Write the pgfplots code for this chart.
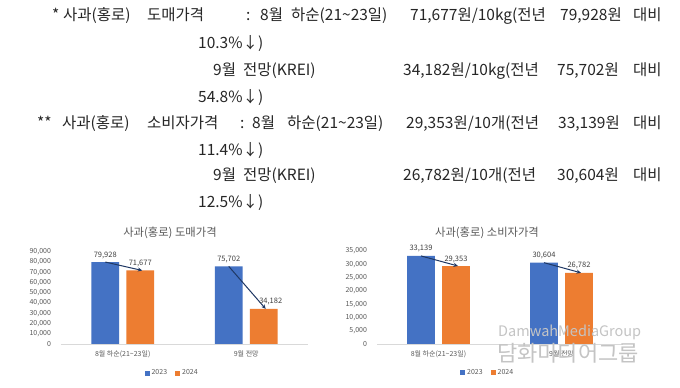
\documentclass[border=0pt]{standalone}
\usepackage{fontspec}
\setmainfont{Noto Sans CJK KR}
\usepackage{pgfplots}
\pgfplotsset{compat=1.18}
\usetikzlibrary{arrows.meta}
\definecolor{xblue}{HTML}{4472C4}
\definecolor{xorange}{HTML}{ED7D31}
\definecolor{txt}{HTML}{595959}
\definecolor{lbl}{HTML}{404040}
\definecolor{arr}{HTML}{1F3864}
\definecolor{wm}{HTML}{C4C4C4}
\pgfplotsset{
  mybar/.style={
    scale only axis, anchor=south west,
    ybar=7.4pt, bar width=27.6pt,
    xmin=-0.5, xmax=1.5, ymin=0,
    xtick={0,1},
    axis x line*=bottom, axis y line*=left,
    x axis line style={draw=black!15, line width=0.6pt},
    y axis line style={draw=none},
    major tick length=0pt,
    scaled y ticks=false,
    /pgf/number format/.cd, 1000 sep={,}, assume math mode=true, /pgfplots/.cd,
    yticklabel style={font=\fontsize{7}{8}\selectfont, text=txt, xshift=-6.5pt},
    xticklabel style={font=\fontsize{7}{8}\selectfont, text=txt, yshift=-3.5pt},
    nodes near coords,
    nodes near coords style={font=\fontsize{7.5}{9}\selectfont, text=lbl},
    legend columns=2,
    legend style={draw=none, fill=none, font=\fontsize{7}{8}\selectfont, text=txt,
      /tikz/every even column/.append style={column sep=6pt}},
    legend image code/.code={\fill[#1] (0pt,-2.5pt) rectangle (5pt,2.5pt);},
  }
}
\begin{document}
\begin{tikzpicture}
\path[fill=white] (0pt,0pt) rectangle (680pt,388pt);
\begin{scope}[every node/.style={anchor=base west, inner sep=0pt, font=\fontsize{15.5}{18}\selectfont, text=black!85}]
% line 1
\node at (52pt,367pt) {*};
\node at (63pt,367pt) {사과(홍로)};
\node at (147pt,367pt) {도매가격};
\node at (246pt,367pt) {:};
\node at (260pt,367pt) {8월};
\node at (291pt,367pt) {하순(21\textasciitilde23일)};
\node at (410pt,367pt) {71,677원/10kg(전년};
\node at (560pt,367pt) {79,928원};
\node at (633pt,367pt) {대비};
% line 2
\node at (198pt,339pt) {10.3\%↓)};
% line 3
\node at (213pt,312pt) {9월};
\node at (243pt,312pt) {전망(KREI)};
\node at (403pt,312pt) {34,182원/10kg(전년};
\node at (557pt,312pt) {75,702원};
\node at (633pt,312pt) {대비};
% line 4
\node at (198pt,285pt) {54.8\%↓)};
% line 5
\node at (37pt,259pt) {**};
\node at (62pt,259pt) {사과(홍로)};
\node at (147pt,259pt) {소비자가격};
\node at (240pt,259pt) {:};
\node at (252pt,259pt) {8월};
\node at (287pt,259pt) {하순(21\textasciitilde23일)};
\node at (406pt,259pt) {29,353원/10개(전년};
\node at (558pt,259pt) {33,139원};
\node at (633pt,259pt) {대비};
% line 6
\node at (198pt,232pt) {11.4\%↓)};
% line 7
\node at (213pt,207pt) {9월};
\node at (243pt,207pt) {전망(KREI)};
\node at (403pt,207pt) {26,782원/10개(전년};
\node at (557pt,207pt) {30,604원};
\node at (633pt,207pt) {대비};
% line 8
\node at (198pt,180pt) {12.5\%↓)};
\end{scope}
% chart titles
\node[font=\fontsize{11.3}{13}\selectfont, text=txt] at (170pt,155pt) {사과(홍로) 도매가격};
\node[font=\fontsize{11.3}{13}\selectfont, text=txt] at (487pt,155pt) {사과(홍로) 소비자가격};
% left chart
\begin{axis}[mybar, at={(61pt,44pt)}, width=247pt, height=92.3pt,
  ymax=90000, ytick={0,10000,...,90000},
  xticklabels={8월 하순(21\textasciitilde23일), 9월 전망},
  legend style={at={(0.45,-0.315)}, anchor=center}]
\addplot[fill=xblue, draw=none] coordinates {(0,79928) (1,75702)};
\addplot[fill=xorange, draw=none,
  visualization depends on={x \as \myx},
  nodes near coords style={xshift={\myx*7pt}}] coordinates {(0,71677) (1,34182)};
\legend{2023,2024}
\draw[arr, line width=1pt, -{Stealth[length=4.5pt,width=4pt]}] ([xshift=-17.5pt]axis cs:0,79928) -- ([xshift=19.5pt]axis cs:0,71677);
\draw[arr, line width=1pt, -{Stealth[length=4.5pt,width=4pt]}] ([xshift=-17.5pt]axis cs:1,75702) -- ([xshift=19.5pt]axis cs:1,34182);
\end{axis}
% right chart
\begin{axis}[mybar, at={(377pt,44pt)}, width=246pt, height=93pt,
  ymax=35000, ytick={0,5000,...,35000},
  xticklabels={8월 하순(21\textasciitilde23일), 9월 전망},
  legend style={at={(0.45,-0.31)}, anchor=center}]
\addplot[fill=xblue, draw=none] coordinates {(0,33139) (1,30604)};
\addplot[fill=xorange, draw=none] coordinates {(0,29353) (1,26782)};
\legend{2023,2024}
\draw[arr, line width=1pt, -{Stealth[length=4.5pt,width=4pt]}] ([xshift=-17.5pt]axis cs:0,33139) -- ([xshift=19.5pt]axis cs:0,29353);
\draw[arr, line width=1pt, -{Stealth[length=4.5pt,width=4pt]}] ([xshift=-17.5pt]axis cs:1,30604) -- ([xshift=19.5pt]axis cs:1,26782);
\end{axis}
% watermark
\node[anchor=west, inner sep=0pt, font=\fontsize{14.5}{16}\selectfont, text=wm] at (498pt,55.5pt) {DamwahMediaGroup};
\node[anchor=west, inner sep=0pt, font=\fontsize{22}{24}\selectfont, text=wm] at (497pt,35pt) {담화미디어그룹};
\end{tikzpicture}
\end{document}
